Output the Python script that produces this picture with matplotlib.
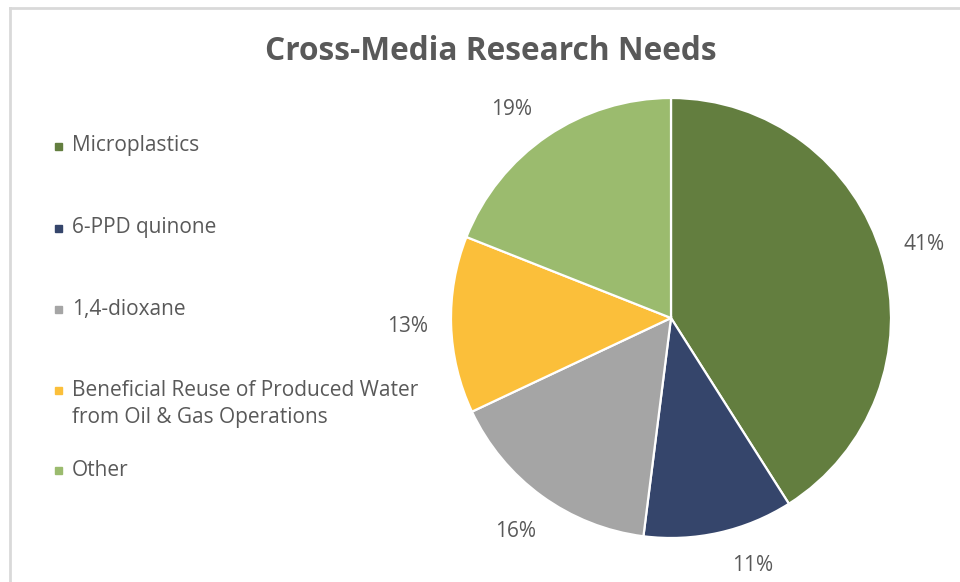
import matplotlib
matplotlib.use("Agg")
import matplotlib.pyplot as plt
from matplotlib.lines import Line2D
from matplotlib.patches import Rectangle

# data
categories = ["Microplastics", "6-PPD quinone", "1,4-dioxane",
              "Beneficial Reuse of Produced Water\nfrom Oil & Gas Operations", "Other"]
shares = [41, 11, 16, 13, 19]
colors = ["#637e3f", "#35456b", "#a5a5a5", "#fbbf3a", "#9bbb6e"]
title = "Cross-Media Research Needs"

plt.rcParams['font.family'] = ['Open Sans', 'DejaVu Sans']
txt = "#595959"

W, H = 960, 582
fig = plt.figure(figsize=(W / 100, H / 100), dpi=100)

# light frame around the chart area
fig.add_artist(Line2D([10 / W, 10 / W], [0, 1 - 8 / H], color="#d9d9d9", lw=2))
fig.add_artist(Line2D([10 / W, 1], [1 - 8 / H, 1 - 8 / H], color="#d9d9d9", lw=2))

fig.text(491 / W, 1 - 52 / H, title, ha="center", va="center",
         fontsize=22.8, fontweight="bold", color=txt)

# pie axes: center (671, 318) px, radius 220 px
cx, cy, r = 671, 318, 220
m = 1.3
ax = fig.add_axes([(cx - r * m) / W, 1 - (cy + r * m) / H, 2 * r * m / W, 2 * r * m / H])
wedges, _, autotexts = ax.pie(shares, colors=colors, startangle=90, counterclock=False,
                              autopct="%.0f%%", pctdistance=1.2,
                              wedgeprops=dict(edgecolor="white", linewidth=1.6))
for t in autotexts:
    t.set_color(txt)
    t.set_fontsize(15)
# small nudges, like Excel's best-fit label placement
nudge = {1: (0.11, 0.045), 4: (-0.05, -0.045)}
for i, (dx, dy) in nudge.items():
    x, y = autotexts[i].get_position()
    autotexts[i].set_position((x + dx, y + dy))
ax.set_xlim(-m, m)
ax.set_ylim(-m, m)
ax.set_aspect("equal")
ax.axis("off")

# legend on the left
leg_y = [146, 228, 309, 390, 470]
line_step = 28
for lab, col, y in zip(categories, colors, leg_y):
    fig.add_artist(Rectangle((55 / W, 1 - (y + 4) / H), 7 / W, 7 / H,
                             transform=fig.transFigure, color=col))
    for i, line in enumerate(lab.split("\n")):
        fig.text(72 / W, 1 - (y + i * line_step) / H, line, ha="left", va="center",
                 fontsize=15, color=txt)

fig.savefig("out.png", dpi=100)
